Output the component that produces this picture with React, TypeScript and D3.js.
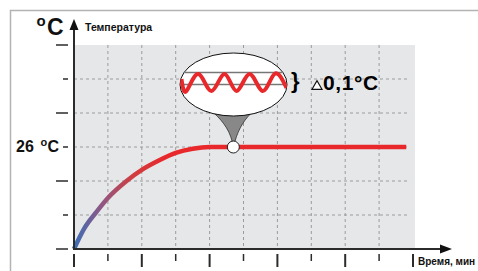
import React, { useRef, useEffect } from "react";
import * as d3 from "d3";

// heating curve: time in minutes, temperature in °C
const time = [0, 0.3, 0.67, 1, 1.55, 2, 2.5, 3, 3.5, 4, 4.7, 9.8];
const temp = [20, 21.2, 22.2, 23, 24, 24.65, 25.2, 25.65, 25.9, 26, 26, 26];

const xTicks = [0, 1, 2, 3, 4, 5, 6, 7, 8, 9, 10];
const yTicks = [20, 22, 24, 26, 28, 30, 32];
const setPoint = 26;
const markerTime = 4.7;

// ripple in the zoom bubble, offsets from the bubble centre (px)
const waveDx = [-52, -47, -35, -22, -9, 3, 16, 29, 41, 53];
const waveDy = [-4, 8, -9, 8, -9, 8, -9, 8, -9, 5];

const W = 478;
const H = 271;

const App = () => {
  const ref = useRef<SVGSVGElement>(null);

  useEffect(() => {
    const svg = d3.select(ref.current);
    svg.selectAll("*").remove();

    const x = d3.scaleLinear().domain([0, 10]).range([74, 413]);
    const y = d3.scaleLinear().domain([20, 32]).range([249, 45]);

    // outer frame (top + left edges)
    svg.append("path")
      .attr("d", `M10.5,${H} L10.5,10.5 L${W},10.5`)
      .attr("fill", "none")
      .attr("stroke", "#b3b3b3")
      .attr("stroke-width", 1.5);

    // plot background
    svg.append("rect")
      .attr("x", x(0)).attr("y", y(32))
      .attr("width", 415 - x(0)).attr("height", y(20) - y(32))
      .attr("fill", "#e6e7e9");

    // grid
    const grid = svg.append("g")
      .attr("stroke", "#9b9b9b")
      .attr("stroke-width", 1)
      .attr("stroke-dasharray", "3,3");
    grid.selectAll("line.v")
      .data(xTicks.filter(d => d > 0 && d < 10))
      .join("line")
      .attr("x1", d => x(d)).attr("x2", d => x(d))
      .attr("y1", y(32)).attr("y2", y(20));
    grid.selectAll("line.h")
      .data(yTicks.filter(d => d > 20 && d < 32))
      .join("line")
      .attr("x1", x(0)).attr("x2", 410)
      .attr("y1", d => y(d)).attr("y2", d => y(d));

    // gradient for the curve
    const grad = svg.append("defs").append("linearGradient")
      .attr("id", "heat")
      .attr("gradientUnits", "userSpaceOnUse")
      .attr("x1", x(0)).attr("x2", x(2.7))
      .attr("y1", 0).attr("y2", 0);
    grad.append("stop").attr("offset", 0).attr("stop-color", "#3a6db8");
    grad.append("stop").attr("offset", 0.3).attr("stop-color", "#8f5884");
    grad.append("stop").attr("offset", 0.65).attr("stop-color", "#d23d40");
    grad.append("stop").attr("offset", 1).attr("stop-color", "#e8282b");

    const line = d3.line<number>()
      .x((d, i) => x(time[i]))
      .y(d => y(d))
      .curve(d3.curveMonotoneX);

    svg.append("path")
      .attr("d", line(temp))
      .attr("fill", "none")
      .attr("stroke", "url(#heat)")
      .attr("stroke-width", 4.5)
      .attr("stroke-linecap", "butt");

    // axes
    const axis = svg.append("g").attr("stroke", "#2b2b2b").attr("fill", "#111");
    axis.append("line")
      .attr("x1", x(0)).attr("x2", 442)
      .attr("y1", y(20)).attr("y2", y(20))
      .attr("stroke-width", 2);
    axis.append("path")
      .attr("d", `M452,${y(20)} L440,${y(20) - 4.5} L440,${y(20) + 4.5} Z`)
      .attr("stroke", "none");
    axis.append("line")
      .attr("x1", x(0)).attr("x2", x(0))
      .attr("y1", y(20) + 1).attr("y2", 28)
      .attr("stroke-width", 2);
    axis.append("path")
      .attr("d", `M${x(0)},19 L${x(0) - 4.5},30 L${x(0) + 4.5},30 Z`)
      .attr("stroke", "none");

    axis.selectAll("line.xt")
      .data(xTicks)
      .join("line")
      .attr("x1", d => x(d)).attr("x2", d => x(d))
      .attr("y1", 254).attr("y2", d => (d % 2 === 0 ? 267 : 261))
      .attr("stroke-width", d => (d % 2 === 0 ? 2 : 1.5));
    axis.selectAll("line.yt")
      .data(yTicks)
      .join("line")
      .attr("x1", d => ((d - 20) % 4 === 0 ? 56 : 63)).attr("x2", 68)
      .attr("y1", d => y(d)).attr("y2", d => y(d))
      .attr("stroke-width", 1.5);

    // zoom bubble
    const cx = x(markerTime);
    const cy = y(setPoint);
    const bx = 233.5;
    const by = 84.5;

    svg.append("path")
      .attr("d", `M${bx - 22},106 L${bx - 22},111 C${bx - 13.5},118 ${bx - 4.5},128 ${cx - 1},${cy - 5}
        L${cx + 1.5},${cy - 5} C${bx + 5},128 ${bx + 12},118 ${bx + 20},111 L${bx + 20},106 Z`)
      .attr("fill", "#888")
      .attr("stroke", "#333")
      .attr("stroke-width", 0.8);

    svg.append("circle")
      .attr("cx", cx).attr("cy", cy).attr("r", 6)
      .attr("fill", "#fff").attr("stroke", "#222").attr("stroke-width", 1);

    svg.append("clipPath").attr("id", "bub")
      .append("ellipse")
      .attr("cx", bx).attr("cy", by).attr("rx", 53.5).attr("ry", 31.5);

    svg.append("ellipse")
      .attr("cx", bx).attr("cy", by).attr("rx", 53.5).attr("ry", 31.5)
      .attr("fill", "#fff").attr("stroke", "#111").attr("stroke-width", 1);

    const inner = svg.append("g").attr("clip-path", "url(#bub)");
    inner.selectAll("line")
      .data([72.5, 84.5])
      .join("line")
      .attr("x1", bx - 60).attr("x2", bx + 60)
      .attr("y1", d => d).attr("y2", d => d)
      .attr("stroke", "#777").attr("stroke-width", 1.5);

    const wave = d3.line<number>()
      .x(d => bx + d)
      .y((d, i) => by - 1.5 + waveDy[i])
      .curve(d3.curveNatural);
    inner.append("path")
      .attr("d", wave(waveDx))
      .attr("fill", "none")
      .attr("stroke", "#e8282b")
      .attr("stroke-width", 4);

    // delta annotation
    svg.append("text")
      .attr("x", 291).attr("y", 88)
      .attr("font-family", "Liberation Sans, Arial, sans-serif")
      .attr("font-weight", "bold").attr("font-size", 22)
      .text("}");
    svg.append("path")
      .attr("d", "M312,89.3 L322,89.3 L317,80.7 Z")
      .attr("fill", "#fff").attr("stroke", "#111").attr("stroke-width", 1.2);
    svg.append("text")
      .attr("x", 323).attr("y", 89.5)
      .attr("font-family", "Liberation Sans, Arial, sans-serif")
      .attr("font-weight", "bold").attr("font-size", 21)
      .attr("letter-spacing", 0.6)
      .text("0,1°C");

    // labels
    const lab = svg.append("g")
      .attr("font-family", "Liberation Sans, Arial, sans-serif")
      .attr("font-weight", "bold").attr("fill", "#111");

    const unit = lab.append("text");
    unit.append("tspan").attr("x", 36.5).attr("y", 25.5).attr("font-size", 15).text("o");
    unit.append("tspan").attr("x", 47).attr("y", 35).attr("font-size", 23).text("C");

    lab.append("text")
      .attr("x", 85).attr("y", 31).attr("font-size", 10.5)
      .text("Температура");

    const sp = lab.append("text");
    sp.append("tspan").attr("x", 16).attr("y", y(setPoint) + 5).attr("font-size", 16).text("26");
    sp.append("tspan").attr("x", 40.5).attr("y", y(setPoint) - 1.5).attr("font-size", 11).text("o");
    sp.append("tspan").attr("x", 47.5).attr("y", y(setPoint) + 5).attr("font-size", 16).text("C");

    lab.append("text")
      .attr("x", 418).attr("y", 265).attr("font-size", 10)
      .text("Время, мин");
  }, []);

  return (
    <svg
      ref={ref}
      width={W}
      height={H}
      style={{ position: "absolute", left: 0, top: 0, background: "#fff" }}
    />
  );
};

export default App;
